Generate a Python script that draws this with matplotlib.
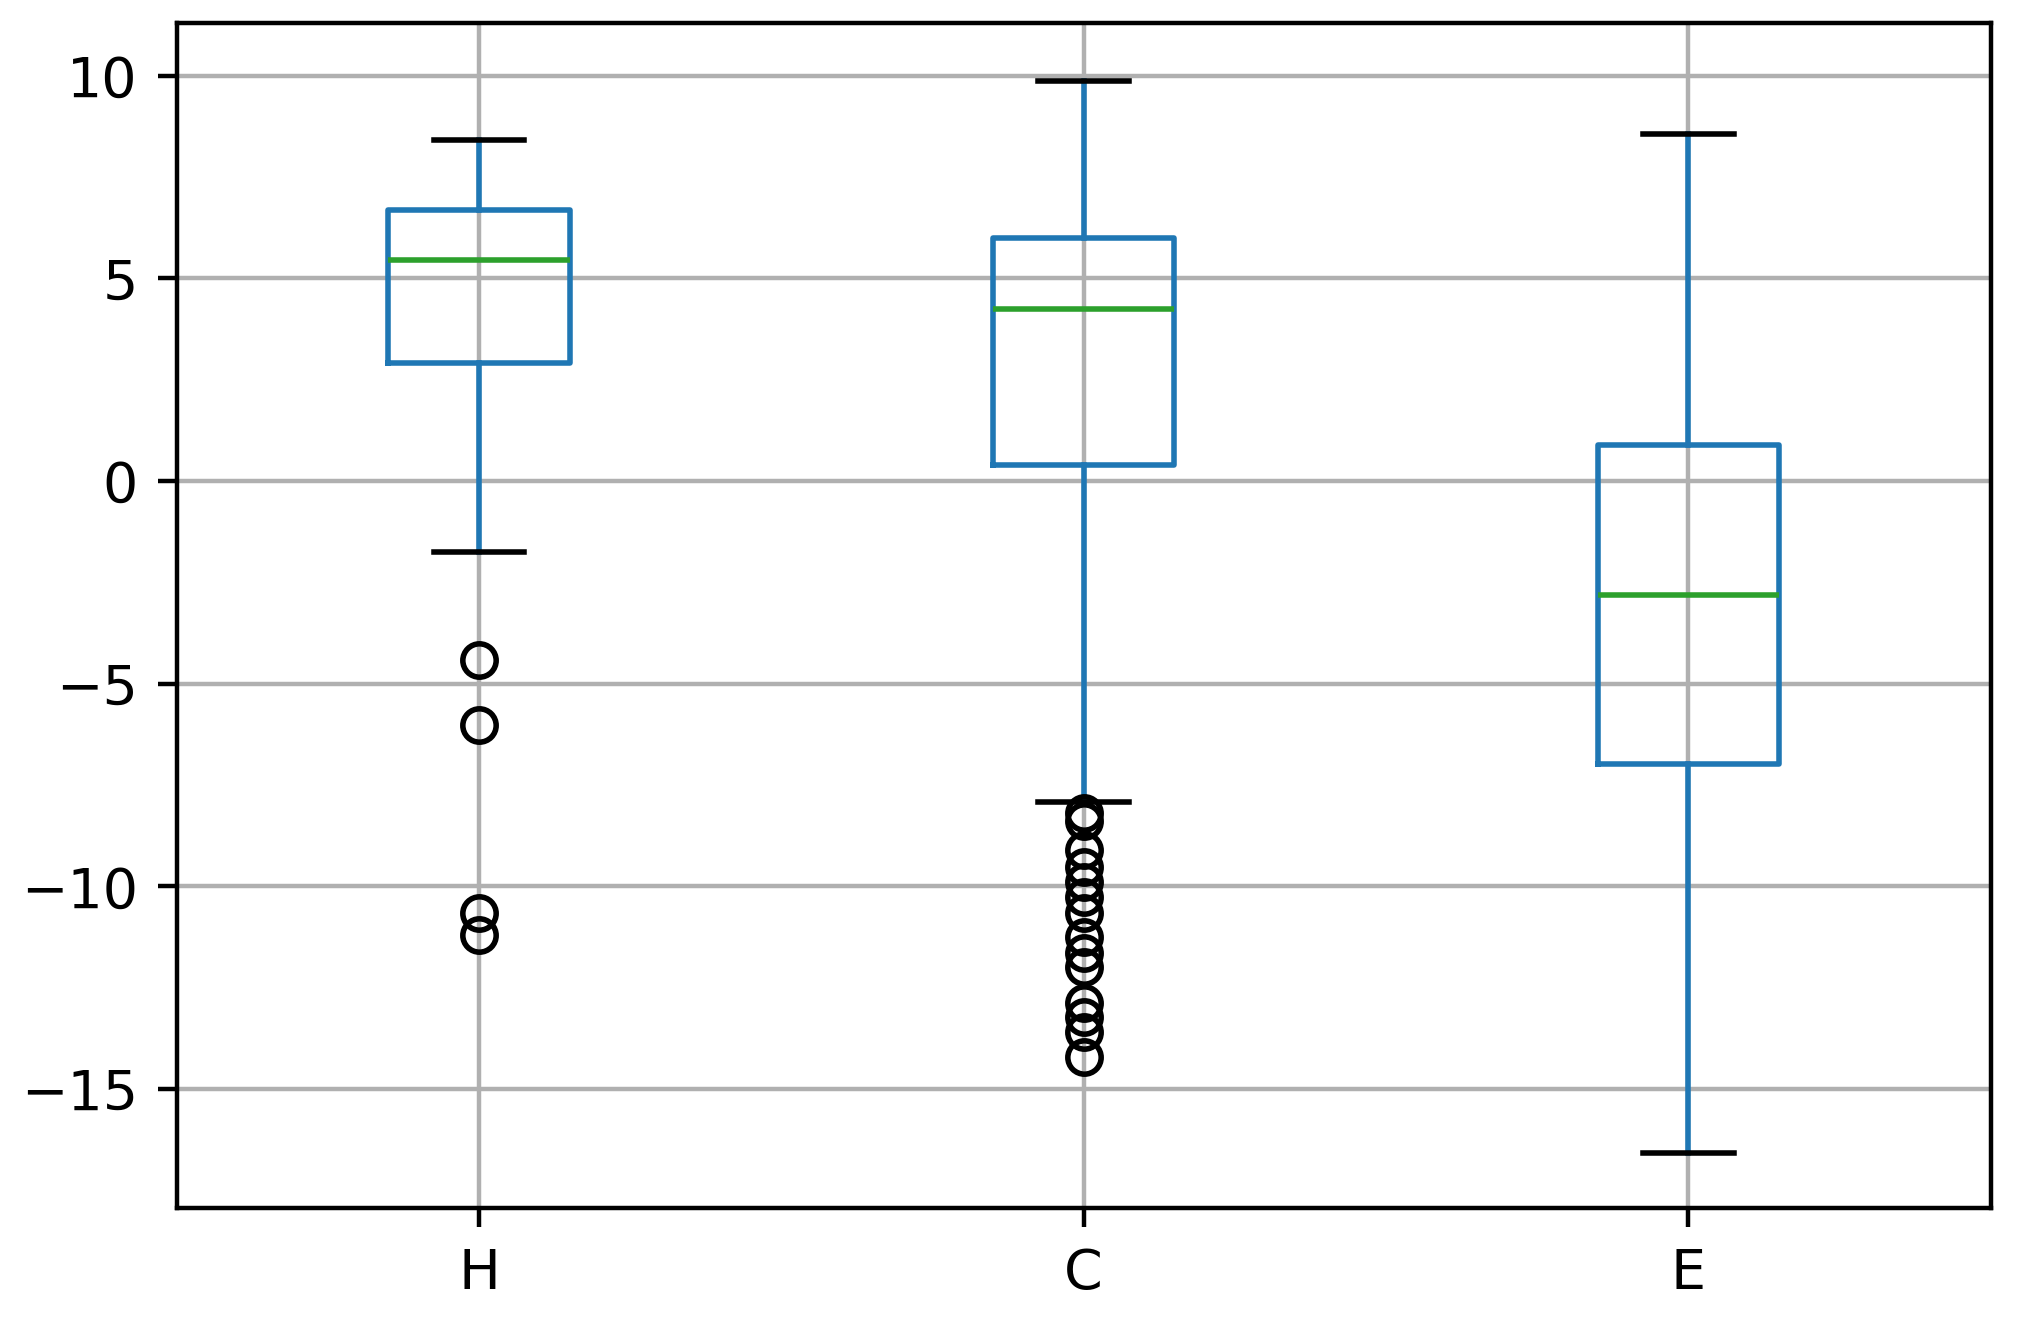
import matplotlib
matplotlib.use("Agg")
import matplotlib.pyplot as plt

categories = ["H", "C", "E"]
whislo = [-1.74, -7.91, -16.59]
q1 = [2.91, 0.39, -6.98]
med = [5.45, 4.24, -2.82]
q3 = [6.69, 5.99, 0.90]
whishi = [8.41, 9.87, 8.57]
fliers_H = [-4.41, -6.02, -10.66, -11.2]
fliers_C = [-8.19, -8.4, -9.10, -9.52, -9.9, -10.26, -10.66, -11.25, -11.64, -11.99,
            -12.88, -13.22, -13.6, -14.21]
fliers_E = []

stats = []
for i, name in enumerate(categories):
    stats.append(dict(label=name, whislo=whislo[i], q1=q1[i], med=med[i], q3=q3[i],
                      whishi=whishi[i], fliers=[fliers_H, fliers_C, fliers_E][i]))

dpi = 400
fig = plt.figure(figsize=(2021 / dpi, 1318 / dpi), dpi=dpi)
ax = fig.add_axes([0.0874, 0.0837, 0.985 - 0.0874, 0.9824 - 0.0837])
ax.bxp(stats, positions=[1, 2, 3], widths=0.3,
       boxprops=dict(color="#1f77b4"),
       whiskerprops=dict(color="#1f77b4"),
       medianprops=dict(color="#2ca02c"),
       capprops=dict(color="black"),
       flierprops=dict(marker="o", markeredgecolor="black", markerfacecolor="none"))
ax.set_xlim(0.5, 3.5)
ax.set_ylim(-17.93, 11.30)
ax.set_yticks([10, 5, 0, -5, -10, -15])
ax.grid(True, color="#b0b0b0", linewidth=0.8)
ax.set_axisbelow(True)
fig.savefig("out.png", dpi=dpi)
